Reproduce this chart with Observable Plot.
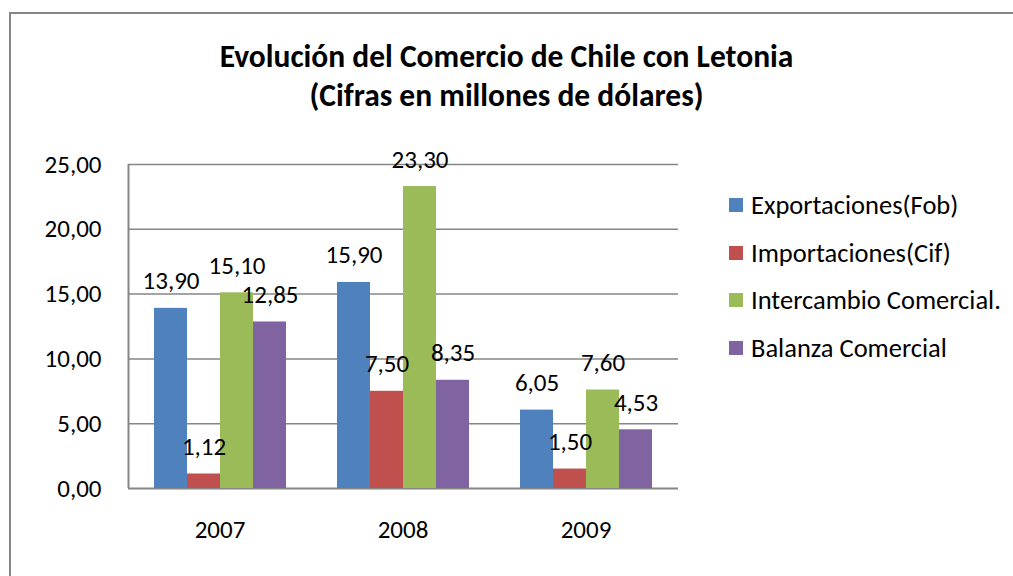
<!DOCTYPE html>
<html>
<head>
<meta charset="utf-8">
<script src="https://cdn.jsdelivr.net/npm/d3@7"></script>
<script src="https://cdn.jsdelivr.net/npm/@observablehq/plot@0.6"></script>
<style>
  html, body { margin: 0; padding: 0; background: #fff; }
  #wrap { position: relative; width: 1013px; height: 576px; overflow: hidden; font-family: Carlito, Calibri, Lato, sans-serif; }
  #frame { position: absolute; left: 9px; top: 12px; width: 1010px; height: 570px; border-left: 2px solid #868686; border-top: 2px solid #868686; box-sizing: border-box; }
  #title { position: absolute; left: 0; width: 1013px; top: 37px; text-align: center; font-weight: bold; font-size: 31.5px; line-height: 39px; color: #000; }
  .layer { position: absolute; left: 0; top: 0; }
  #legend { position: absolute; left: 729px; top: 181px; font-size: 26.5px; color: #000; }
  #legend .row { display: flex; align-items: center; height: 47.7px; }
  #legend .sw { width: 14px; height: 14px; margin-right: 8px; }
</style>
</head>
<body>
<div id="wrap">
  <div id="frame"></div>
  <div id="title">Evolución del Comercio de Chile con Letonia<br>(Cifras en millones de dólares)</div>
  <div id="bg" class="layer"></div>
  <div id="fg" class="layer"></div>
  <div id="legend"></div>
</div>
<script>
const years = ["2007", "2008", "2009"];
const series = ["Exportaciones(Fob)", "Importaciones(Cif)", "Intercambio Comercial.", "Balanza Comercial"];
const colors = ["#4F81BD", "#C0504D", "#9BBB59", "#8064A2"];
const exportaciones = [13.90, 15.90, 6.05];
const importaciones = [1.12, 7.50, 1.50];
const intercambio = [15.10, 23.30, 7.60];
const balanza = [12.85, 8.35, 4.53];
const yTicks = [0, 5, 10, 15, 20, 25];

const seriesValues = [exportaciones, importaciones, intercambio, balanza];
const rows = [];
years.forEach((y, i) => series.forEach((s, j) => rows.push({year: y, series: s, value: seriesValues[j][i]})));

const fmt = d => d.toFixed(2).replace(".", ",");
const W = 1013, H = 576;
const margins = {marginLeft: 128, marginRight: 335, marginTop: 164, marginBottom: 88};
const fontFamily = "Carlito, Calibri, Lato, sans-serif";

const bg = Plot.plot({
  width: W, height: H, ...margins,
  style: {background: "none", fontSize: "25px", fontFamily, color: "#000"},
  x: {domain: [0, 1], axis: null},
  y: {domain: [0, 25], ticks: yTicks, tickFormat: fmt, tickSize: 0, tickPadding: 27, label: null},
  marks: [
    Plot.ruleY(yTicks.filter(d => d > 0), {stroke: "#868686", strokeWidth: 1.5}),
    Plot.ruleY([0], {stroke: "#868686", strokeWidth: 2}),
    Plot.ruleX([0], {stroke: "#868686", strokeWidth: 2})
  ]
});
document.getElementById("bg").appendChild(bg);

const fg = Plot.plot({
  width: W, height: H, ...margins,
  style: {background: "none", fontSize: "25px", fontFamily, color: "#000"},
  facet: {data: rows, x: "year"},
  fx: {domain: years, paddingInner: 0.2727, paddingOuter: 0.1364, axis: "bottom", tickSize: 0, tickPadding: 32, label: null},
  x: {domain: series, padding: 0, axis: null},
  y: {domain: [0, 25], axis: null},
  color: {domain: series, range: colors},
  marks: [
    Plot.barY(rows, {x: "series", y: "value", fill: "series"}),
    Plot.text(rows, {x: "series", y: "value", text: d => fmt(d.value), dy: -27, lineAnchor: "middle", fill: "#000"})
  ]
});
document.getElementById("fg").appendChild(fg);

const legend = document.getElementById("legend");
series.forEach((s, i) => {
  const row = document.createElement("div");
  row.className = "row";
  const sw = document.createElement("div");
  sw.className = "sw";
  sw.style.background = colors[i];
  const t = document.createElement("span");
  t.textContent = s;
  row.appendChild(sw); row.appendChild(t);
  legend.appendChild(row);
});
</script>
</body>
</html>
